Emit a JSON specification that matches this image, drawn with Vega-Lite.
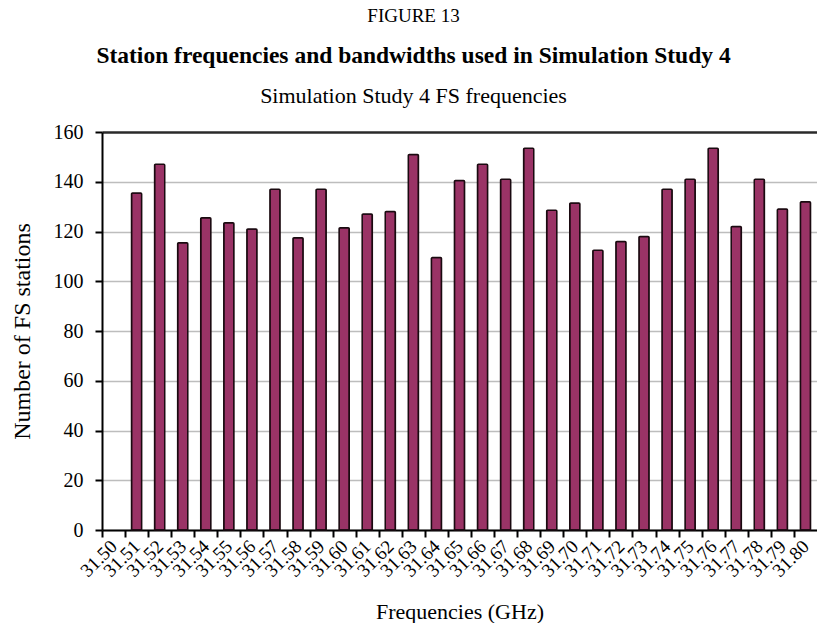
{
  "$schema": "https://vega.github.io/schema/vega-lite/v6.json",
  "padding": {"left": 10, "top": 6, "right": 0, "bottom": 0},
  "background": "white",
  "title": {
    "text": "FIGURE 13",
    "subtitle": "Station frequencies and bandwidths used in Simulation Study 4",
    "anchor": "middle",
    "frame": "bounds",
    "font": "Liberation Serif",
    "fontSize": 19,
    "fontWeight": "normal",
    "color": "black",
    "subtitleFont": "Liberation Serif",
    "subtitleFontSize": 23.5,
    "subtitleFontWeight": "bold",
    "subtitleColor": "black",
    "subtitlePadding": 18,
    "offset": 18
  },
  "vconcat": [
    {
      "width": 715,
      "height": 398,
      "title": {
        "text": "Simulation Study 4 FS frequencies",
        "anchor": "middle",
        "frame": "bounds",
        "font": "Liberation Serif",
        "fontSize": 22,
        "fontWeight": "normal",
        "color": "black",
        "offset": 14
      },
      "data": {
        "values": [
          {"freq": "31.51", "count": 135.5},
          {"freq": "31.52", "count": 147},
          {"freq": "31.53", "count": 115.5},
          {"freq": "31.54", "count": 125.5},
          {"freq": "31.55", "count": 123.5},
          {"freq": "31.56", "count": 121},
          {"freq": "31.57", "count": 137},
          {"freq": "31.58", "count": 117.5},
          {"freq": "31.59", "count": 137},
          {"freq": "31.60", "count": 121.5},
          {"freq": "31.61", "count": 127},
          {"freq": "31.62", "count": 128},
          {"freq": "31.63", "count": 151},
          {"freq": "31.64", "count": 109.5},
          {"freq": "31.65", "count": 140.5},
          {"freq": "31.66", "count": 147},
          {"freq": "31.67", "count": 141},
          {"freq": "31.68", "count": 153.5},
          {"freq": "31.69", "count": 128.5},
          {"freq": "31.70", "count": 131.5},
          {"freq": "31.71", "count": 112.5},
          {"freq": "31.72", "count": 116},
          {"freq": "31.73", "count": 118},
          {"freq": "31.74", "count": 137},
          {"freq": "31.75", "count": 141},
          {"freq": "31.76", "count": 153.5},
          {"freq": "31.77", "count": 122},
          {"freq": "31.78", "count": 141},
          {"freq": "31.79", "count": 129},
          {"freq": "31.80", "count": 132}
        ]
      },
      "mark": {"type": "bar", "fill": "#9a3366", "stroke": "#1a0a10", "strokeWidth": 1.5, "cornerRadiusTopLeft": 1, "cornerRadiusTopRight": 1},
      "encoding": {
        "x": {
          "field": "freq",
          "type": "ordinal",
          "scale": {
            "domain": ["31.50","31.51","31.52","31.53","31.54","31.55","31.56","31.57","31.58","31.59","31.60","31.61","31.62","31.63","31.64","31.65","31.66","31.67","31.68","31.69","31.70","31.71","31.72","31.73","31.74","31.75","31.76","31.77","31.78","31.79","31.80"],
            "paddingInner": 0.56,
            "paddingOuter": 0.28
          },
          "axis": {
            "title": "Frequencies (GHz)",
            "titleFont": "Liberation Serif",
            "titleFontSize": 22,
            "titleFontWeight": "normal",
            "titleColor": "black",
            "titlePadding": 21,
            "labelFont": "Liberation Serif",
            "labelFontSize": 19,
            "labelColor": "black",
            "labelAngle": -45,
            "labelAlign": "right",
            "labelBaseline": "middle",
            "labelPadding": 6,
            "labelOffset": 11.5,
            "tickOffset": -11.53,
            "tickSize": 7,
            "tickWidth": 2,
            "tickColor": "black",
            "domainColor": "black",
            "domainWidth": 2,
            "grid": false
          }
        },
        "y": {
          "field": "count",
          "type": "quantitative",
          "scale": {"domain": [0, 160], "nice": false},
          "axis": {
            "title": "Number of FS stations",
            "titleFont": "Liberation Serif",
            "titleFontSize": 24,
            "titleFontWeight": "normal",
            "titleColor": "black",
            "titlePadding": 19,
            "values": [0, 20, 40, 60, 80, 100, 120, 140, 160],
            "labelFont": "Liberation Serif",
            "labelFontSize": 20,
            "labelColor": "black",
            "labelPadding": 12,
            "tickSize": 7,
            "tickWidth": 2,
            "tickColor": "black",
            "domainColor": "black",
            "domainWidth": 2,
            "grid": true,
            "gridColor": {"condition": {"test": "datum.value === 160", "value": "#2a2a2a"}, "value": "#bdbdbd"},
            "gridWidth": {"condition": {"test": "datum.value === 160", "value": 2.5}, "value": 1.5}
          }
        }
      }
    }
  ],
  "config": {
    "font": "Liberation Serif",
    "view": {"stroke": null}
  }
}
